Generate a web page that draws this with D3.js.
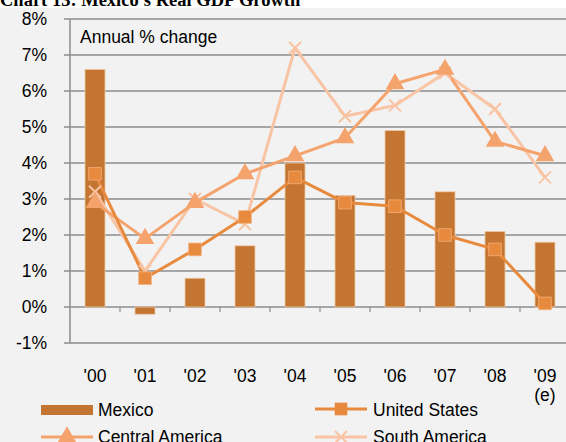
<!DOCTYPE html>
<html>
<head>
<meta charset="utf-8">
<script src="https://cdn.jsdelivr.net/npm/d3@7"></script>
<style>
  html, body { margin: 0; padding: 0; background: #f2f2f2; }
  svg { display: block; font-family: "Liberation Sans", Arial, sans-serif; }
</style>
</head>
<body>
<svg id="chart" width="566" height="442"></svg>
<script>
// ── Data ──
const years = ["'00", "'01", "'02", "'03", "'04", "'05", "'06", "'07", "'08", "'09"];
const mexico = [6.6, -0.2, 0.8, 1.7, 4.0, 3.1, 4.9, 3.2, 2.1, 1.8];
const unitedStates = [3.7, 0.8, 1.6, 2.5, 3.6, 2.9, 2.8, 2.0, 1.6, 0.1];
const centralAmerica = [2.9, 1.9, 2.9, 3.7, 4.2, 4.7, 6.2, 6.6, 4.6, 4.2];
const southAmerica = [3.2, 1.0, 3.0, 2.3, 7.2, 5.3, 5.6, 6.5, 5.5, 3.6];
const yTicks = [-1, 0, 1, 2, 3, 4, 5, 6, 7, 8];

const FS = 17.5;
const svg = d3.select("#chart");

// title band (cut off at top)
svg.append("rect").attr("x", 0).attr("y", 0).attr("width", 566).attr("height", 8).attr("fill", "#fff");
svg.append("text")
    .attr("x", 0).attr("y", 6)
    .attr("font-family", "'Liberation Serif', 'Times New Roman', serif")
    .attr("font-weight", "bold")
    .attr("font-size", 18.5)
    .attr("fill", "#000")
    .text("Chart 13: Mexico's Real GDP Growth");

const x = d3.scaleBand().domain(years).range([70, 570]).paddingInner(0.6).paddingOuter(0.3);
const y = d3.scaleLinear().domain([-1, 8]).range([343, 19]);
const cx = d => x(d) + x.bandwidth() / 2;

// ── Gridlines ──
svg.append("g").selectAll("line").data(yTicks).join("line")
    .attr("x1", 64).attr("x2", 566)
    .attr("y1", d => y(d)).attr("y2", d => y(d))
    .attr("stroke", "#8c8c8c").attr("stroke-width", 1.5);

// y axis line
svg.append("line")
    .attr("x1", 70).attr("x2", 70).attr("y1", y(8)).attr("y2", y(-1))
    .attr("stroke", "#8c8c8c").attr("stroke-width", 1.5);

// x tick marks on the zero line, between categories
const step = x.step();
svg.append("g").selectAll("line").data(years.slice(1)).join("line")
    .attr("x1", d => x(d) - (step - x.bandwidth()) / 2)
    .attr("x2", d => x(d) - (step - x.bandwidth()) / 2)
    .attr("y1", y(0)).attr("y2", y(0) + 5)
    .attr("stroke", "#8c8c8c").attr("stroke-width", 1.2);

// y labels
svg.append("g").selectAll("text").data(yTicks).join("text")
    .attr("x", 47).attr("y", d => y(d))
    .attr("dy", "0.35em")
    .attr("text-anchor", "end")
    .attr("font-size", FS)
    .attr("fill", "#000")
    .text(d => d + "%");

// x labels
svg.append("g").selectAll("text").data(years).join("text")
    .attr("x", d => cx(d)).attr("y", 382)
    .attr("text-anchor", "middle")
    .attr("font-size", FS)
    .attr("fill", "#000")
    .text(d => d);
svg.append("text")
    .attr("x", cx("'09")).attr("y", 401)
    .attr("text-anchor", "middle")
    .attr("font-size", FS)
    .text("(e)");

// ── Mexico bars ──
svg.append("g").selectAll("rect").data(mexico).join("rect")
    .attr("x", (d, i) => x(years[i]))
    .attr("y", d => y(Math.max(0, d)))
    .attr("width", x.bandwidth())
    .attr("height", d => Math.abs(y(d) - y(0)))
    .attr("fill", "#c47532")
    .attr("stroke", "#efc9a6").attr("stroke-width", 0.8);

// ── Lines ──
const line = d3.line().x((d, i) => cx(years[i])).y(d => y(d));

function drawSeries(data, color, width) {
    svg.append("path").datum(data)
        .attr("d", line)
        .attr("fill", "none")
        .attr("stroke", color)
        .attr("stroke-width", width)
        .attr("stroke-linejoin", "round");
}

drawSeries(southAmerica, "#f8c4a4", 3);
drawSeries(centralAmerica, "#f5a36d", 3);
drawSeries(unitedStates, "#e88a3d", 3);

const tri = d3.symbol().type(d3.symbolTriangle).size(150);
const sq = d3.symbol().type(d3.symbolSquare).size(160);

// south america x markers
svg.append("g").selectAll("path").data(southAmerica).join("path")
    .attr("d", "M-6,-6L6,6M-6,6L6,-6")
    .attr("transform", (d, i) => `translate(${cx(years[i])},${y(d)})`)
    .attr("stroke", "#f8c4a4").attr("stroke-width", 2).attr("fill", "none");

// central america triangles
svg.append("g").selectAll("path").data(centralAmerica).join("path")
    .attr("d", tri)
    .attr("transform", (d, i) => `translate(${cx(years[i])},${y(d)})`)
    .attr("fill", "#f5a36d");

// united states squares
svg.append("g").selectAll("path").data(unitedStates).join("path")
    .attr("d", sq)
    .attr("transform", (d, i) => `translate(${cx(years[i])},${y(d)})`)
    .attr("fill", "#e88a3d").attr("stroke", "#f2b07c").attr("stroke-width", 0.8);

// inner label
svg.append("text")
    .attr("x", 80).attr("y", 43)
    .attr("font-size", FS)
    .attr("fill", "#000")
    .text("Annual % change");

// ── Legend ──
const legend = svg.append("g").attr("font-size", FS).attr("fill", "#000");
legend.append("rect").attr("x", 41).attr("y", 405).attr("width", 52).attr("height", 10).attr("fill", "#c47532");
legend.append("text").attr("x", 98).attr("y", 410).attr("dy", "0.35em").text("Mexico");

legend.append("line").attr("x1", 315).attr("x2", 367).attr("y1", 409).attr("y2", 409)
    .attr("stroke", "#e88a3d").attr("stroke-width", 3);
legend.append("path").attr("d", sq).attr("transform", "translate(341,409)").attr("fill", "#e88a3d");
legend.append("text").attr("x", 373).attr("y", 410).attr("dy", "0.35em").text("United States");

legend.append("line").attr("x1", 41).attr("x2", 93).attr("y1", 437).attr("y2", 437)
    .attr("stroke", "#f5a36d").attr("stroke-width", 3);
legend.append("path").attr("d", tri).attr("transform", "translate(67,437)").attr("fill", "#f5a36d");
legend.append("text").attr("x", 98).attr("y", 437).attr("dy", "0.35em").text("Central America");

legend.append("line").attr("x1", 315).attr("x2", 367).attr("y1", 437).attr("y2", 437)
    .attr("stroke", "#f8c4a4").attr("stroke-width", 3);
legend.append("path").attr("d", "M-6,-6L6,6M-6,6L6,-6").attr("transform", "translate(341,437)")
    .attr("stroke", "#f8c4a4").attr("stroke-width", 2);
legend.append("text").attr("x", 373).attr("y", 437).attr("dy", "0.35em").text("South America");
</script>
</body>
</html>
